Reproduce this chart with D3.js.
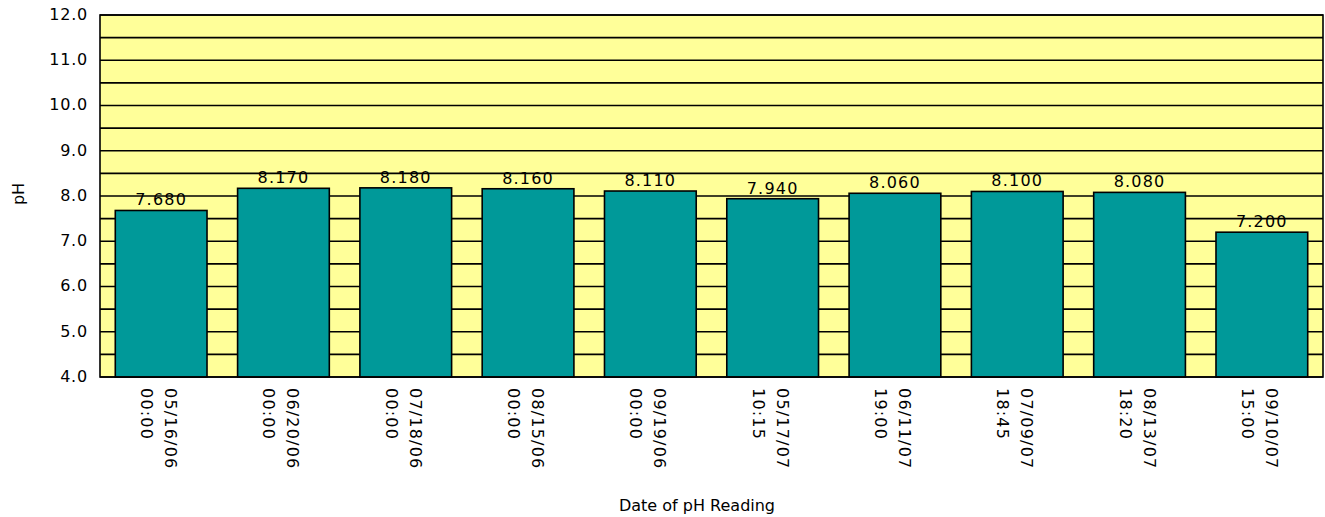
<!DOCTYPE html>
<html><head><meta charset="utf-8">
<script src="https://cdn.jsdelivr.net/npm/d3@7"></script>
<style>body{margin:0;background:#fff}svg{display:block}text{font-family:"DejaVu Sans",sans-serif;fill:#000;font-size:16px}</style>
</head><body><svg id="c" width="1325" height="517"></svg>
<script>
const dates = ["05/16/06","06/20/06","07/18/06","08/15/06","09/19/06","05/17/07","06/11/07","07/09/07","08/13/07","09/10/07"];
const times = ["00:00","00:00","00:00","00:00","00:00","10:15","19:00","18:45","18:20","15:00"];
const values = [7.68,8.17,8.18,8.16,8.11,7.94,8.06,8.10,8.08,7.20];
const yTicks = [4,5,6,7,8,9,10,11,12];
const gridVals = d3.range(4,12.01,0.5);

const svg = d3.select("#c");
const L=100,R=1323,T=15,B=377;
const x = d3.scaleBand().domain(d3.range(values.length)).range([L,R]).paddingInner(0.25).paddingOuter(0.125);
const y = d3.scaleLinear().domain([4,12]).range([B,T]);

svg.append("rect").attr("x",L).attr("y",T).attr("width",R-L).attr("height",B-T).attr("fill","#FFFF99");
svg.append("g").selectAll("line").data(gridVals).join("line")
  .attr("x1",L).attr("x2",R).attr("y1",d=>y(d)).attr("y2",d=>y(d)).attr("stroke","#000").attr("stroke-width",1.6);

svg.append("g").selectAll("rect").data(values).join("rect")
  .attr("x",(d,i)=>x(i)).attr("width",x.bandwidth()).attr("y",d=>y(d)).attr("height",d=>y(4)-y(d))
  .attr("fill","#009999").attr("stroke","#000").attr("stroke-width",1.6);

svg.append("g").selectAll("text").data(values).join("text")
  .attr("x",(d,i)=>x(i)+x.bandwidth()/2).attr("y",d=>y(d)-5).attr("text-anchor","middle")
  .style("letter-spacing","1.2px").text(d=>d.toFixed(3));

svg.append("rect").attr("x",L).attr("y",T).attr("width",R-L).attr("height",B-T).attr("fill","none").attr("stroke","#000").attr("stroke-width",1.6);

// y axis labels
svg.append("g").selectAll("text").data(yTicks).join("text")
  .attr("x",88).attr("y",d=>y(d)).attr("dy","0.3em").attr("text-anchor","end").style("letter-spacing","0.8px").text(d=>d.toFixed(1));

// x labels
const xl = svg.append("g").selectAll("g").data(values).join("g")
  .attr("transform",(d,i)=>`translate(${x(i)+x.bandwidth()/2},388) rotate(90)`);
xl.append("text").attr("x",0).attr("y",-4).style("letter-spacing","1.2px").text((d,i)=>dates[i]);
xl.append("text").attr("x",0).attr("y",20).style("letter-spacing","1.2px").text((d,i)=>times[i]);

svg.append("text").attr("transform","translate(24,194) rotate(-90)").attr("text-anchor","middle").text("pH");
svg.append("text").attr("x",697).attr("y",511).attr("text-anchor","middle").text("Date of pH Reading");
</script></body></html>
